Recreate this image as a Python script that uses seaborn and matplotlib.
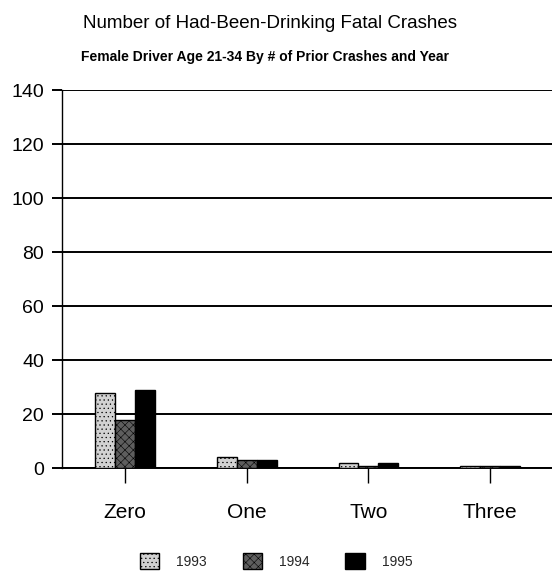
import matplotlib
matplotlib.use("Agg")
import matplotlib.pyplot as plt
import seaborn as sns
import pandas as pd
from matplotlib.patches import Patch

categories = ["Zero", "One", "Two", "Three"]
years = ["1993", "1994", "1995"]
values_1993 = [28, 4, 2, 1]
values_1994 = [18, 3, 1, 1]
values_1995 = [29, 3, 2, 1]
y_ticks = [0, 20, 40, 60, 80, 100, 120, 140]

rows = []
for yr, vals in zip(years, [values_1993, values_1994, values_1995]):
    for c, v in zip(categories, vals):
        rows.append({"cat": c, "year": yr, "value": v})
df = pd.DataFrame(rows)

sns.set_theme(style="white")
plt.rcParams["font.family"] = ["Liberation Sans", "DejaVu Sans"]
plt.rcParams["hatch.linewidth"] = 0.4

colors = {"1993": "#d2d2d2", "1994": "#5e5e5e", "1995": "#000000"}
hatches = {"1993": "....", "1994": "xxxx", "1995": ""}

fig = plt.figure(figsize=(5.52, 5.80), dpi=100)
ax = fig.add_axes([62 / 552, 1 - 468.3 / 580, 1 - 62 / 552, (468.3 - 90) / 580])

sns.barplot(data=df, x="cat", y="value", hue="year", order=categories,
            hue_order=years, palette=colors, width=0.49, gap=0,
            edgecolor="black", linewidth=1.0, saturation=1, legend=False, ax=ax)

for i, yr in enumerate(years):
    for bar in ax.containers[i]:
        if hatches[yr]:
            bar.set_hatch(hatches[yr])
        bar.set_zorder(3)

ax.set_xlim(-0.52, 3.51)
ax.set_ylim(0, 140)
ax.set_yticks(y_ticks)
ax.set_xlabel("")
ax.set_ylabel("")
ax.yaxis.grid(True, color="black", linewidth=1.4)
ax.set_axisbelow(True)
for s in ["top", "right"]:
    ax.spines[s].set_visible(False)
ax.spines["left"].set_color("black")
ax.spines["left"].set_linewidth(1.0)
ax.spines["bottom"].set_color("black")
ax.spines["bottom"].set_linewidth(1.4)
ax.tick_params(axis="y", left=True, length=7, width=1.4, color="black",
               pad=6, labelsize=14, labelcolor="black")
ax.tick_params(axis="x", bottom=True, length=11, width=1.0, color="black",
               pad=14, labelsize=15, labelcolor="black")

fig.text(0.49, 1 - 23 / 580, "Number of Had-Been-Drinking Fatal Crashes",
         ha="center", va="center", fontsize=13.5, color="black")
fig.text(0.480, 1 - 57 / 580, "Female Driver Age 21-34 By # of Prior Crashes and Year",
         ha="center", va="center", fontsize=10, fontweight="bold", color="black")

handles = [Patch(facecolor=colors[y], edgecolor="black", hatch=hatches[y], linewidth=1.0)
           for y in years]
fig.legend(handles, years, loc="center", bbox_to_anchor=(0.5, 1 - 561 / 580),
           ncol=3, frameon=False, fontsize=10, handlelength=1.4, handleheight=1.4,
           columnspacing=2.6, handletextpad=1.2)

fig.savefig("out.png", dpi=100)
